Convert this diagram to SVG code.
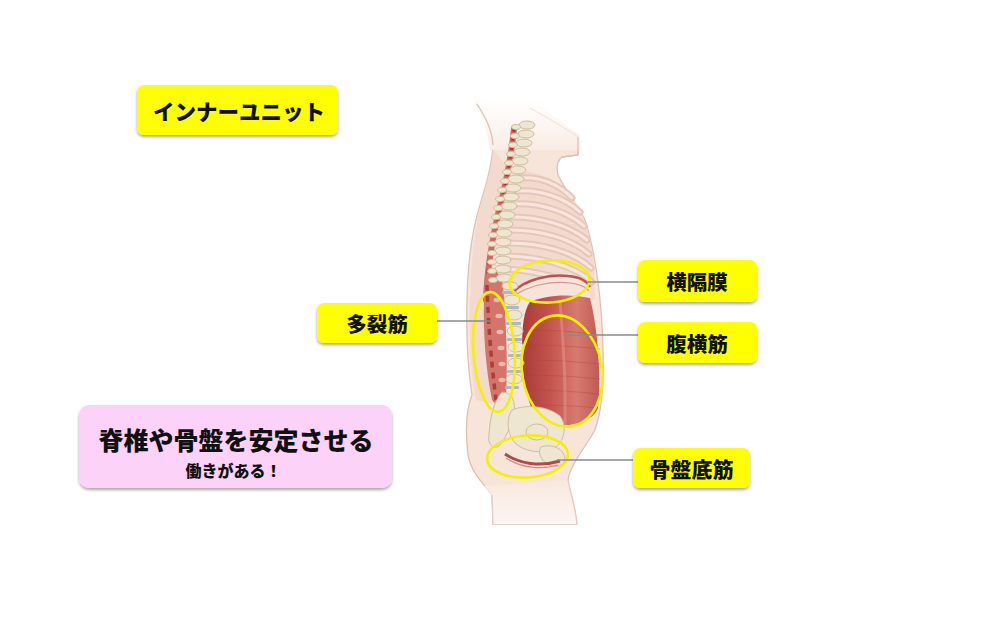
<svg xmlns="http://www.w3.org/2000/svg" xmlns:xlink="http://www.w3.org/1999/xlink" width="1000" height="618" viewBox="0 0 1000 618">
<defs>
  <style>
    .lbl{fill:#ffff00;}
    .box{filter:url(#sh);}
    .t{font-family:"Noto Sans CJK JP","Noto Sans CJK SC",sans-serif;font-weight:900;fill:#111;text-anchor:middle;dominant-baseline:central;}
    .con{stroke:#8a8a8a;stroke-width:1.6;fill:none;}
    .ring{fill:none;stroke:#f4f000;stroke-width:2.6;}
    .rib{fill:none;stroke:#e6c6b8;stroke-width:7;stroke-linecap:round;}
    .ribh{fill:none;stroke:#f8e6de;stroke-width:3;stroke-linecap:round;}
    .bone{fill:#efe6d1;stroke:#cdbd9c;stroke-width:1;}
    .disc{fill:#aeb9bf;}
    .proc{fill:#e9b9ae;}
    .stri{stroke:#a8403c;stroke-width:0.8;opacity:0.45;fill:none;}
  </style>
  <filter id="sh" x="-10%" y="-10%" width="120%" height="140%">
    <feDropShadow dx="0" dy="2" stdDeviation="1.5" flood-color="#000" flood-opacity="0.35"/>
  </filter>
  <linearGradient id="neck" x1="0" y1="100" x2="0" y2="170" gradientUnits="userSpaceOnUse">
    <stop offset="0" stop-color="#ffffff"/>
    <stop offset="1" stop-color="#f7e4da"/>
  </linearGradient>
  <linearGradient id="legs" x1="0" y1="470" x2="0" y2="525" gradientUnits="userSpaceOnUse">
    <stop offset="0" stop-color="#f7e4da"/>
    <stop offset="1" stop-color="#fdf6f2"/>
  </linearGradient>
  <linearGradient id="muscle" x1="522" y1="0" x2="600" y2="0" gradientUnits="userSpaceOnUse">
    <stop offset="0" stop-color="#a93a37"/>
    <stop offset="0.35" stop-color="#c4534d"/>
    <stop offset="0.7" stop-color="#d77a70"/>
    <stop offset="1" stop-color="#c05a52"/>
  </linearGradient>
  <g id="vert">
    <ellipse cx="4" cy="0" rx="8" ry="4" class="bone"/>
    <ellipse cx="-7" cy="2" rx="4.5" ry="2.5" class="bone"/>
  </g>
</defs>

<rect width="1000" height="618" fill="#ffffff"/>

<!-- Anatomical illustration -->
<g id="torso">
  <path d="M477,104 C484,115 492,128 493,145 C492,165 486,185 480,205 C472,230 468,260 467,300 C466,340 468,370 472,395 C466,410 465,430 468,455 C472,475 485,485 492,495 L493,524 L577,524 C575,505 570,492 568,480 C570,465 585,448 595,430 C602,410 604,380 603,350 C602,300 595,250 585,220 C578,205 565,190 558,175 C556,166 558,160 562,157 L578,155 L578,137 C565,128 545,115 528,106 Z" fill="#f8e5da" stroke="#ddc2b4" stroke-width="1.3"/>
  <path d="M474,98 L532,98 C548,112 565,125 580,135 L580,150 L490,150 C488,130 480,112 474,98 Z" fill="url(#neck)"/>
  <path d="M477,104 C484,115 492,128 493,145" fill="none" stroke="#ddc2b4" stroke-width="1.3"/>
  <path d="M578,137 L578,155 L562,157" fill="none" stroke="#ddc2b4" stroke-width="1.3"/>
  <path d="M530,108 C548,118 565,128 578,137" fill="none" stroke="#efe0d8" stroke-width="1"/>
  <path d="M484,486 L492,495 L493,524 L577,524 C575,505 570,492 568,480 Z" fill="url(#legs)"/>
  <path d="M492,495 L493,524 M568,480 C570,492 575,505 577,524" fill="none" stroke="#e2ccc0" stroke-width="1.2"/>

  <!-- back soft tissue -->
  <path d="M493,150 C505,160 512,175 508,200 C500,240 492,280 490,320 C490,360 495,390 498,405 L476,400 C470,370 469,330 470,300 C471,260 475,225 482,200 C488,180 492,165 493,150 Z" fill="#f4d9ce"/>

  <!-- rib cage -->
  <path d="M518,170 C540,172 560,180 572,196 C585,215 592,240 594,270 L595,300 L500,300 C497,270 502,230 510,200 Z" fill="#f3dacf"/>
  <g>
    <path class="rib" d="M520,178 C540,176 560,185 572,198"/>
    <path class="rib" d="M517,191 C540,189 565,198 580,212"/>
    <path class="rib" d="M512,204 C540,202 568,212 584,226"/>
    <path class="rib" d="M509,217 C540,216 570,226 587,240"/>
    <path class="rib" d="M506,230 C540,229 572,239 589,254"/>
    <path class="rib" d="M504,243 C540,242 574,252 591,268"/>
    <path class="rib" d="M502,256 C540,256 575,266 592,282"/>
    <path class="rib" d="M503,269 C535,270 565,278 585,292"/>
    <path class="ribh" d="M520,178 C540,176 560,185 572,198"/>
    <path class="ribh" d="M517,191 C540,189 565,198 580,212"/>
    <path class="ribh" d="M512,204 C540,202 568,212 584,226"/>
    <path class="ribh" d="M509,217 C540,216 570,226 587,240"/>
    <path class="ribh" d="M506,230 C540,229 572,239 589,254"/>
    <path class="ribh" d="M504,243 C540,242 574,252 591,268"/>
    <path class="ribh" d="M502,256 C540,256 575,266 592,282"/>
    <path class="ribh" d="M503,269 C535,270 565,278 585,292"/>
  </g>

  <!-- diaphragm -->
  <path d="M512,300 C520,282 545,274 566,276 C578,277 586,281 590,288 L590,300 Z" fill="#f6e3d9"/>
  <path d="M512,293 C525,279 550,274 568,276 C580,277 587,281 590,287" fill="none" stroke="#b65652" stroke-width="2.4"/>
  <path d="M513,297 C527,285 552,281 570,283 C580,284 586,287 589,291" fill="none" stroke="#d89590" stroke-width="1.2"/>

  <!-- transversus abdominis -->
  <path d="M530,302 C545,296 565,293 590,298 C598,330 601,375 598,408 C592,424 565,428 542,425 C528,410 522,380 522,348 C522,326 524,310 530,302 Z" fill="url(#muscle)"/>
  <g>
    <path class="stri" d="M530,330 C555,330 580,332 598,335"/>
    <path class="stri" d="M526,345 C555,345 580,347 600,349"/>
    <path class="stri" d="M524,360 C555,360 580,362 600,364"/>
    <path class="stri" d="M524,375 C555,375 580,377 600,379"/>
    <path class="stri" d="M526,390 C555,390 580,392 599,394"/>
    <path class="stri" d="M530,405 C555,405 580,406 597,408"/>
    <path d="M560,300 C563,340 566,380 565,425" fill="none" stroke="#e59a90" stroke-width="3" opacity="0.5"/>
  </g>

  <!-- erector / multifidus -->
  <path d="M514,128 C512,150 507,180 499,210 C492,240 487,270 486,300" fill="none" stroke="#cf6a63" stroke-width="6" stroke-linecap="round"/>
  <path d="M514,128 C512,150 507,180 499,210 C492,240 487,270 486,300" fill="none" stroke="#a8342f" stroke-width="3" stroke-dasharray="4 5"/>
  <path d="M489,270 C494,268 500,272 503,285 C506,320 508,360 506,398 C503,405 496,406 492,400 C486,370 483,335 484,300 C484,285 485,274 489,270 Z" fill="#d4756c"/>
  <path d="M487,285 C488,320 491,360 496,400" fill="none" stroke="#b03c36" stroke-width="3.5" stroke-dasharray="6 5"/>
  <g>
    <ellipse class="proc" cx="497" cy="300" rx="3.5" ry="2.2"/>
    <ellipse class="proc" cx="499" cy="316" rx="3.5" ry="2.2"/>
    <ellipse class="proc" cx="500" cy="332" rx="3.5" ry="2.2"/>
    <ellipse class="proc" cx="501" cy="348" rx="3.5" ry="2.2"/>
    <ellipse class="proc" cx="502" cy="364" rx="3.5" ry="2.2"/>
    <ellipse class="proc" cx="502" cy="380" rx="3.5" ry="2.2"/>
  </g>

  <!-- spine -->
  <g>
    <use xlink:href="#vert" href="#vert" x="523" y="125"/>
    <use xlink:href="#vert" href="#vert" x="522" y="134"/>
    <use xlink:href="#vert" href="#vert" x="520" y="143"/>
    <use xlink:href="#vert" href="#vert" x="518" y="152"/>
    <use xlink:href="#vert" href="#vert" x="516" y="161"/>
    <use xlink:href="#vert" href="#vert" x="514" y="170"/>
    <use xlink:href="#vert" href="#vert" x="512" y="179"/>
    <use xlink:href="#vert" href="#vert" x="509" y="188"/>
    <use xlink:href="#vert" href="#vert" x="507" y="197"/>
    <use xlink:href="#vert" href="#vert" x="505" y="206"/>
    <use xlink:href="#vert" href="#vert" x="503" y="215"/>
    <use xlink:href="#vert" href="#vert" x="501" y="224"/>
    <use xlink:href="#vert" href="#vert" x="500" y="233"/>
    <use xlink:href="#vert" href="#vert" x="499" y="242"/>
    <use xlink:href="#vert" href="#vert" x="499" y="251"/>
    <use xlink:href="#vert" href="#vert" x="499" y="260"/>
    <use xlink:href="#vert" href="#vert" x="499" y="269"/>
    <use xlink:href="#vert" href="#vert" x="500" y="278"/>
    <rect class="disc" x="502" y="291" width="15" height="3" rx="1"/>
    <ellipse class="bone" cx="510" cy="286" rx="8" ry="4"/>
    <rect class="disc" x="504" y="306" width="15" height="3" rx="1"/>
    <ellipse class="bone" cx="512" cy="300" rx="8" ry="5"/>
    <rect class="disc" x="506" y="322" width="15" height="3" rx="1"/>
    <ellipse class="bone" cx="514" cy="315" rx="8" ry="5"/>
    <rect class="disc" x="507" y="338" width="15" height="3" rx="1"/>
    <ellipse class="bone" cx="515" cy="331" rx="8" ry="5"/>
    <rect class="disc" x="508" y="354" width="15" height="3" rx="1"/>
    <ellipse class="bone" cx="516" cy="347" rx="8" ry="5"/>
    <rect class="disc" x="507" y="370" width="15" height="3" rx="1"/>
    <ellipse class="bone" cx="516" cy="363" rx="8" ry="5"/>
    <ellipse class="bone" cx="514" cy="379" rx="8" ry="5"/>
    <rect class="disc" x="505" y="386" width="14" height="3" rx="1"/>
  </g>

  <!-- pelvis -->
  <g>
    <path class="bone" d="M502,392 C512,392 516,402 514,414 C511,426 506,438 499,446 C493,450 487,444 489,434 C490,420 493,402 502,392 Z"/>
    <path class="bone" d="M512,410 C526,404 548,406 560,416 C567,425 565,440 556,447 C545,455 526,452 516,444 C508,436 505,420 512,410 Z" fill="#f3ebd9"/>
    <ellipse class="bone" cx="537" cy="432" rx="11" ry="8" fill="#f7f0e2"/>
    <path class="bone" d="M541,447 C552,443 564,449 565,458 C565,465 556,469 549,465 C541,461 537,452 541,447 Z"/>
    <path d="M505,454 C520,464 540,467 560,461" fill="none" stroke="#b04a46" stroke-width="3"/>
    <path d="M506,458 C521,468 540,470 558,465" fill="none" stroke="#d48a84" stroke-width="1.2"/>
  </g>

  <!-- yellow highlight rings -->
  <ellipse class="ring" cx="549.5" cy="281.5" rx="40" ry="21" transform="rotate(-3 549.5 281.5)"/>
  <ellipse class="ring" cx="494" cy="352" rx="20.5" ry="60" transform="rotate(-4 494 352)"/>
  <ellipse class="ring" cx="562" cy="371" rx="40" ry="56" transform="rotate(-10 562 371)"/>
  <ellipse class="ring" cx="527.5" cy="456.5" rx="40.5" ry="21" transform="rotate(-4 527.5 456.5)"/>
</g>

<!-- connectors -->
<g id="connectors">
  <line class="con" x1="437" y1="321" x2="491" y2="321"/>
  <line class="con" x1="588" y1="282" x2="638" y2="282"/>
  <line class="con" x1="563" y1="335" x2="638" y2="335"/>
  <line class="con" x1="557" y1="460" x2="633" y2="460"/>
</g>

<!-- nodes -->
<g id="inner-unit">
  <rect class="lbl box" x="137" y="85" width="201" height="50" rx="7"/>
  <text class="t" x="239" y="110" font-size="21.5">インナーユニット</text>
</g>

<g id="multifidus">
  <rect class="lbl box" x="317" y="303" width="120" height="40" rx="7"/>
  <text class="t" x="377" y="323" font-size="20.5">多裂筋</text>
</g>

<g id="diaphragm">
  <rect class="lbl box" x="638" y="260" width="119" height="42" rx="7"/>
  <text class="t" x="697" y="281" font-size="20.5">横隔膜</text>
</g>

<g id="transversus">
  <rect class="lbl box" x="638" y="322" width="119" height="41" rx="7"/>
  <text class="t" x="697" y="342.5" font-size="20.5">腹横筋</text>
</g>

<g id="pelvic-floor">
  <rect class="lbl box" x="633" y="448" width="117" height="40" rx="7"/>
  <text class="t" x="691.5" y="468" font-size="21">骨盤底筋</text>
</g>

<g id="stabilize">
  <rect class="box" x="79" y="405" width="313" height="83" rx="10" fill="#fcd2f8"/>
  <text class="t" x="236" y="439" font-size="25">脊椎や骨盤を安定させる</text>
  <text class="t" x="233.5" y="469.5" font-size="16">働きがある！</text>
</g>
</svg>
